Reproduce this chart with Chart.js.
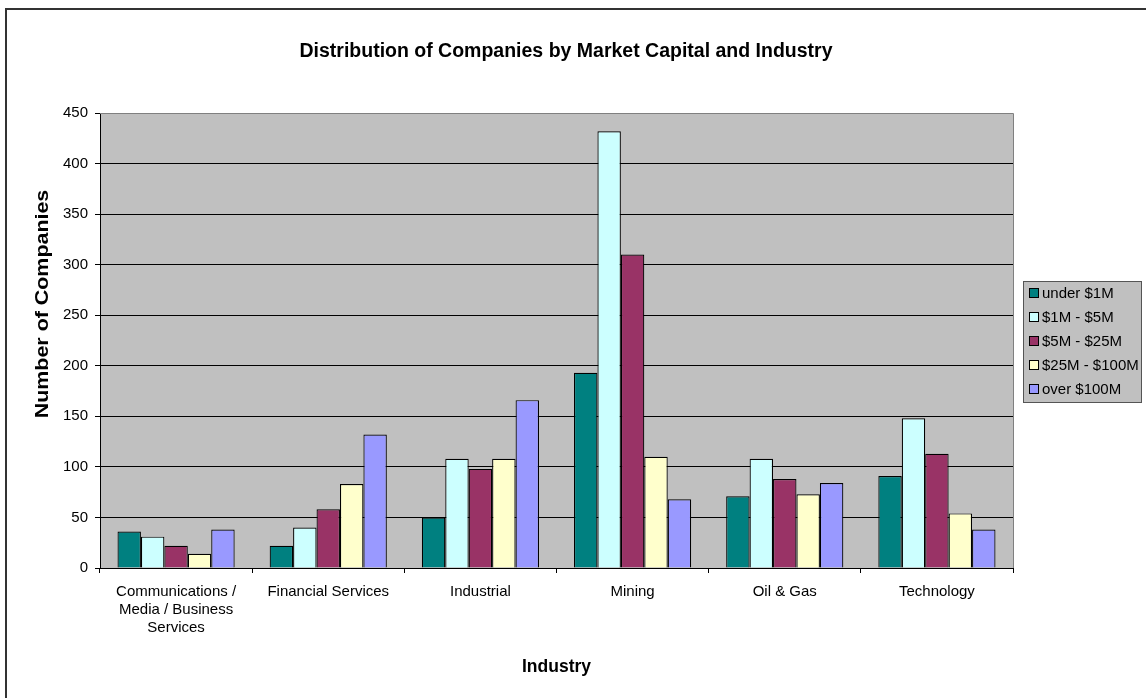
<!DOCTYPE html>
<html>
<head>
<meta charset="utf-8">
<script src="https://cdn.jsdelivr.net/npm/chart.js@4.4.1/dist/chart.umd.min.js"></script>
<style>
  html, body { margin: 0; padding: 0; background: #fff; }
  canvas { display: block; }
</style>
</head>
<body>
<canvas id="chart" width="1146" height="698"></canvas>
<script>
const industries = [
  ['Communications /', 'Media / Business', 'Services'],
  'Financial Services',
  'Industrial',
  'Mining',
  'Oil & Gas',
  'Technology'
]
const capLabels = ['under $1M', '$1M - $5M', '$5M - $25M', '$25M - $100M', 'over $100M']
const capColors = ['#008080', '#CCFFFF', '#993366', '#FFFFCC', '#9999FF']

const under1M = [36, 22, 50, 193, 71, 91]
const from1to5M = [31, 40, 108, 432, 108, 148]
const from5to25M = [22, 58, 98, 310, 88, 113]
const from25to100M = [14, 83, 108, 110, 73, 54]
const over100M = [38, 132, 166, 68, 84, 38]

const seriesValues = [under1M, from1to5M, from5to25M, from25to100M, over100M]
const yTicks = [0, 50, 100, 150, 200, 250, 300, 350, 400, 450]

const FONT = "'Liberation Sans', Arial, sans-serif"

// gray plot area, outer frame, titles and legend box
const excelLook = {
  id: 'excelLook',
  beforeDraw(chart) {
    const { ctx, chartArea: a } = chart
    ctx.save()
    ctx.fillStyle = '#C0C0C0'
    ctx.fillRect(a.left, a.top, a.right - a.left, a.bottom - a.top)
    ctx.restore()
  },
  afterDraw(chart) {
    const { ctx, chartArea: a } = chart
    ctx.save()
    // plot border (top/right gray)
    ctx.strokeStyle = '#808080'
    ctx.lineWidth = 1
    ctx.beginPath()
    ctx.moveTo(a.left, a.top + 0.5)
    ctx.lineTo(a.right + 0.5, a.top + 0.5)
    ctx.lineTo(a.right + 0.5, a.bottom)
    ctx.stroke()

    // outer frame
    ctx.strokeStyle = '#333'
    ctx.lineWidth = 2
    ctx.beginPath()
    ctx.moveTo(6, 700)
    ctx.lineTo(6, 9)
    ctx.lineTo(1150, 9)
    ctx.stroke()

    // chart title
    ctx.fillStyle = '#000'
    ctx.font = 'bold 19.5px ' + FONT
    ctx.textAlign = 'center'
    ctx.textBaseline = 'middle'
    ctx.fillText('Distribution of Companies by Market Capital and Industry', 566, 52)

    // y axis title (stretched along its length like the original)
    ctx.save()
    ctx.translate(42, 304)
    ctx.rotate(-Math.PI / 2)
    ctx.scale(1.19, 1)
    ctx.font = 'bold 18px ' + FONT
    ctx.fillText('Number of Companies', 0, 1)
    ctx.restore()

    // legend
    const lx = 1023, ly = 281, lw = 118, lh = 121
    ctx.fillStyle = '#C0C0C0'
    ctx.fillRect(lx, ly, lw, lh)
    ctx.strokeStyle = '#555'
    ctx.lineWidth = 1
    ctx.strokeRect(lx + 0.5, ly + 0.5, lw, lh)
    ctx.font = '15px ' + FONT
    ctx.textAlign = 'left'
    chart.data.datasets.forEach((ds, i) => {
      const cy = 293 + i * 24
      ctx.fillStyle = ds.backgroundColor
      ctx.fillRect(1029, cy - 5, 10, 10)
      ctx.strokeStyle = '#000'
      ctx.strokeRect(1029.5, cy - 4.5, 9, 9)
      ctx.fillStyle = '#000'
      ctx.fillText(ds.label, 1042, cy + 1)
    })
    ctx.restore()
  }
}

const ctx = document.getElementById('chart').getContext('2d')
new Chart(ctx, {
  type: 'bar',
  data: {
    labels: industries,
    datasets: seriesValues.map(function (vals, i) {
      return {
        label: capLabels[i],
        data: vals,
        backgroundColor: capColors[i],
        borderColor: '#000',
        borderWidth: 1.2,
        categoryPercentage: 0.77,
        barPercentage: 1
      }
    })
  },
  options: {
    responsive: false,
    animation: false,
    devicePixelRatio: 1,
    layout: { padding: { left: 6, top: 113, right: 133, bottom: 0 } },
    plugins: {
      legend: { display: false },
      title: { display: false },
      tooltip: { enabled: false }
    },
    scales: {
      x: {
        grid: {
          offset: true,
          drawOnChartArea: false,
          tickLength: 5,
          color: '#000'
        },
        border: { color: '#000' },
        ticks: {
          color: '#000',
          padding: 10,
          maxRotation: 0,
          autoSkip: false,
          font: { family: FONT, size: 15, lineHeight: 1.2 }
        },
        title: {
          display: true,
          text: 'Industry',
          color: '#000',
          font: { family: FONT, size: 17.5, weight: 'bold' },
          padding: { top: 0, bottom: 20.5 }
        },
        afterFit(scale) { scale.height = 130 }
      },
      y: {
        min: 0,
        max: 450,
        afterBuildTicks(scale) {
          scale.ticks = yTicks.map(v => ({ value: v }))
        },
        grid: {
          color: ctx => (ctx.tick && ctx.tick.value === 450 ? '#808080' : '#000'),
          tickColor: '#000',
          tickLength: 5
        },
        border: { color: '#000' },
        ticks: {
          color: '#000',
          padding: 7,
          font: { family: FONT, size: 15 }
        },
        afterFit(scale) { scale.width = 94 }
      }
    }
  },
  plugins: [excelLook]
})
</script>
</body>
</html>
